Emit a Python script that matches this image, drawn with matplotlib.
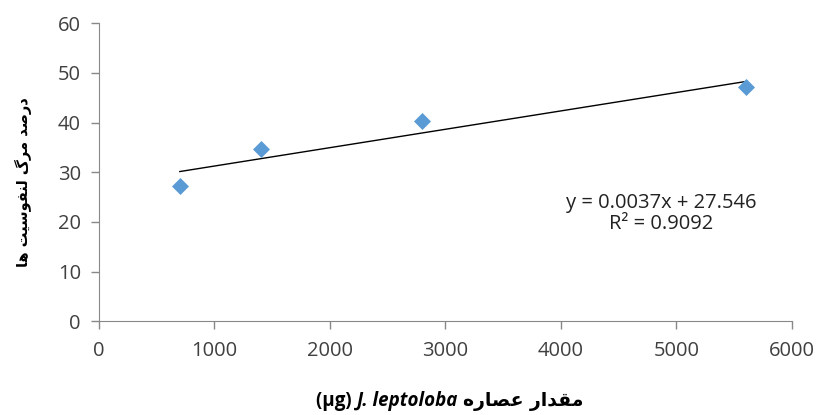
import numpy as np
import matplotlib.pyplot as plt
from matplotlib.offsetbox import TextArea, HPacker, AnchoredOffsetbox

# data
extract_ug = [700, 1400, 2800, 5600]
death_pct = [27.2, 34.7, 40.3, 47.1]
slope = 0.0037
intercept = 27.546
r2 = 0.9092
xticks = [0, 1000, 2000, 3000, 4000, 5000, 6000]
yticks = [0, 10, 20, 30, 40, 50, 60]

# Persian labels, pre-shaped (presentation forms) in visual order
ylabel_fa = "\uFE8E\uFEEB \uFE96\uFBFF\uFEB3\uFEEE\uFED4\uFEE8\uFEDF \uFB92\uFEAE\uFEE3 \uFEAA\uFEBB\uFEAD\uFEA9"
xlabel_fa = "\uFEE9\uFEAD\uFE8E\uFEBC\uFECB \uFEAD\uFE8D\uFEAA\uFED8\uFEE3"

fam = ['Open Sans', 'DejaVu Sans']
plt.rcParams['font.family'] = fam

fig = plt.figure(figsize=(8.18, 4.15), dpi=100)
ax = fig.add_axes([0.121, 0.226, 0.847, 0.718])

ax.scatter(extract_ug, death_pct, marker='D', s=75, color='#5B9BD5', zorder=3, linewidths=0)
xfit = np.array([min(extract_ug), max(extract_ug)])
ax.plot(xfit, slope * xfit + intercept, color='black', lw=1.0, zorder=2)

ax.set_xlim(0, 6000)
ax.set_ylim(0, 60)
ax.set_xticks(xticks)
ax.set_yticks(yticks)
ax.tick_params(labelsize=14.5, colors='#888888', labelcolor='#404040', length=6, width=1)
for s in ['top', 'right']:
    ax.spines[s].set_visible(False)
for s in ['left', 'bottom']:
    ax.spines[s].set_color('#888888')
ax.tick_params(axis='x', pad=8)
ax.tick_params(axis='y', pad=7)

ax.text(4870, 21.7, f"y = {slope}x + {intercept}\nR\u00b2 = {r2}", ha='center', va='center',
        fontsize=14.5, color='#222222', linespacing=1.1)

ax.set_ylabel(ylabel_fa, fontsize=10.5, fontweight='bold', family=['DejaVu Sans'])
ax.yaxis.set_label_coords(-0.097, 0.466)

parts = [
    TextArea("(\u00b5g) ", textprops=dict(fontsize=13.5, fontweight='bold', family=fam)),
    TextArea("J. leptoloba ", textprops=dict(fontsize=13.5, fontweight='bold', style='italic', family=fam)),
    TextArea(xlabel_fa, textprops=dict(fontsize=13.5, fontweight='bold', family=['DejaVu Sans'])),
]
box = HPacker(children=parts, align='baseline', pad=0, sep=0)
anchored = AnchoredOffsetbox(loc='center', child=box, frameon=False,
                             bbox_to_anchor=(0.55, 0.033), bbox_transform=fig.transFigure, pad=0, borderpad=0)
fig.add_artist(anchored)

fig.savefig('out.png', dpi=100)
